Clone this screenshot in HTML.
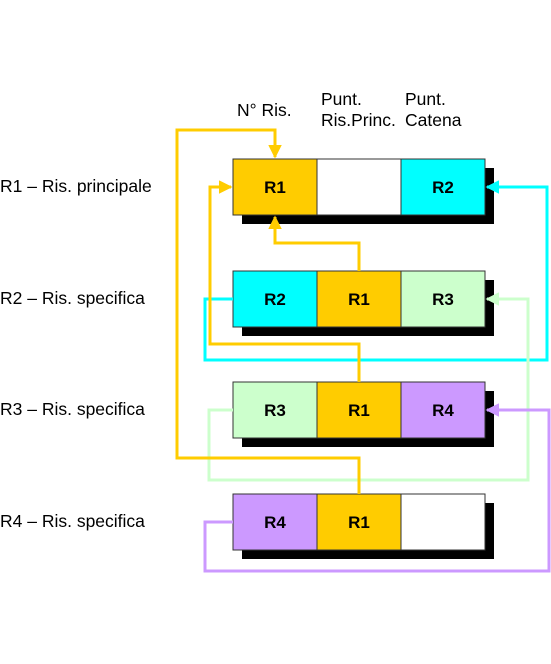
<!DOCTYPE html>
<html><head><meta charset="utf-8"><style>
body{margin:0;background:#fff;}
svg text{font-family:"Liberation Sans",sans-serif;}
</style></head><body>
<svg width="551" height="659" viewBox="0 0 551 659" xmlns="http://www.w3.org/2000/svg">
<defs>
<marker id="ay" markerWidth="4.5" markerHeight="4.5" refX="4" refY="2.25" orient="auto" markerUnits="strokeWidth"><path d="M0,0 L4.5,2.25 L0,4.5 z" fill="#ffcc00"/></marker>
<marker id="ac" markerWidth="4.5" markerHeight="4.5" refX="4" refY="2.25" orient="auto" markerUnits="strokeWidth"><path d="M0,0 L4.5,2.25 L0,4.5 z" fill="#00ffff"/></marker>
<marker id="ag" markerWidth="4.5" markerHeight="4.5" refX="4" refY="2.25" orient="auto" markerUnits="strokeWidth"><path d="M0,0 L4.5,2.25 L0,4.5 z" fill="#ccffcc"/></marker>
<marker id="ap" markerWidth="4.5" markerHeight="4.5" refX="4" refY="2.25" orient="auto" markerUnits="strokeWidth"><path d="M0,0 L4.5,2.25 L0,4.5 z" fill="#cc99ff"/></marker>
</defs>
<g font-size="17.5" fill="#000">
<text x="237" y="116">N° Ris.</text>
<text x="321" y="105">Punt.</text><text x="321" y="126">Ris.Princ.</text>
<text x="405" y="105">Punt.</text><text x="405" y="126">Catena</text>
<text x="0" y="192">R1 – Ris. principale</text>
<text x="0" y="304">R2 – Ris. specifica</text>
<text x="0" y="415">R3 – Ris. specifica</text>
<text x="0" y="527">R4 – Ris. specifica</text>
</g>
<g fill="#000">
<rect x="242" y="168" width="252" height="56"/>
<rect x="242" y="280" width="252" height="56"/>
<rect x="242" y="391" width="252" height="56"/>
<rect x="242" y="503" width="252" height="56"/>
</g>
<g stroke="#333" stroke-width="1">
<rect x="233" y="159" width="84" height="56" fill="#ffcc00"/><rect x="317" y="159" width="84" height="56" fill="#fff"/><rect x="401" y="159" width="84" height="56" fill="#00ffff"/>
<rect x="233" y="271" width="84" height="56" fill="#00ffff"/><rect x="317" y="271" width="84" height="56" fill="#ffcc00"/><rect x="401" y="271" width="84" height="56" fill="#ccffcc"/>
<rect x="233" y="382" width="84" height="56" fill="#ccffcc"/><rect x="317" y="382" width="84" height="56" fill="#ffcc00"/><rect x="401" y="382" width="84" height="56" fill="#cc99ff"/>
<rect x="233" y="494" width="84" height="56" fill="#cc99ff"/><rect x="317" y="494" width="84" height="56" fill="#ffcc00"/><rect x="401" y="494" width="84" height="56" fill="#fff"/>
</g>
<g font-size="17" font-weight="bold" text-anchor="middle">
<text x="275" y="193">R1</text><text x="443" y="193">R2</text>
<text x="275" y="305">R2</text><text x="359" y="305">R1</text><text x="443" y="305">R3</text>
<text x="275" y="416">R3</text><text x="359" y="416">R1</text><text x="443" y="416">R4</text>
<text x="275" y="528">R4</text><text x="359" y="528">R1</text>
</g>
<g fill="none" stroke-width="3">
<path d="M233,299 H205 V360 H547 V187 H487" stroke="#00ffff" marker-end="url(#ac)"/>
<path d="M233,410 H209 V480 H528 V299 H487" stroke="#ccffcc" marker-end="url(#ag)"/>
<path d="M233,522 H205 V571 H549 V410 H487" stroke="#cc99ff" marker-end="url(#ap)"/>
<path d="M359,494 V458 H177 V130 H275 V157" stroke="#ffcc00" marker-end="url(#ay)"/>
<path d="M359,382 V344 H210 V187 H231" stroke="#ffcc00" marker-end="url(#ay)"/>
<path d="M359,271 V243 H275 V217" stroke="#ffcc00" marker-end="url(#ay)"/>
</g>
</svg>
</body></html>
